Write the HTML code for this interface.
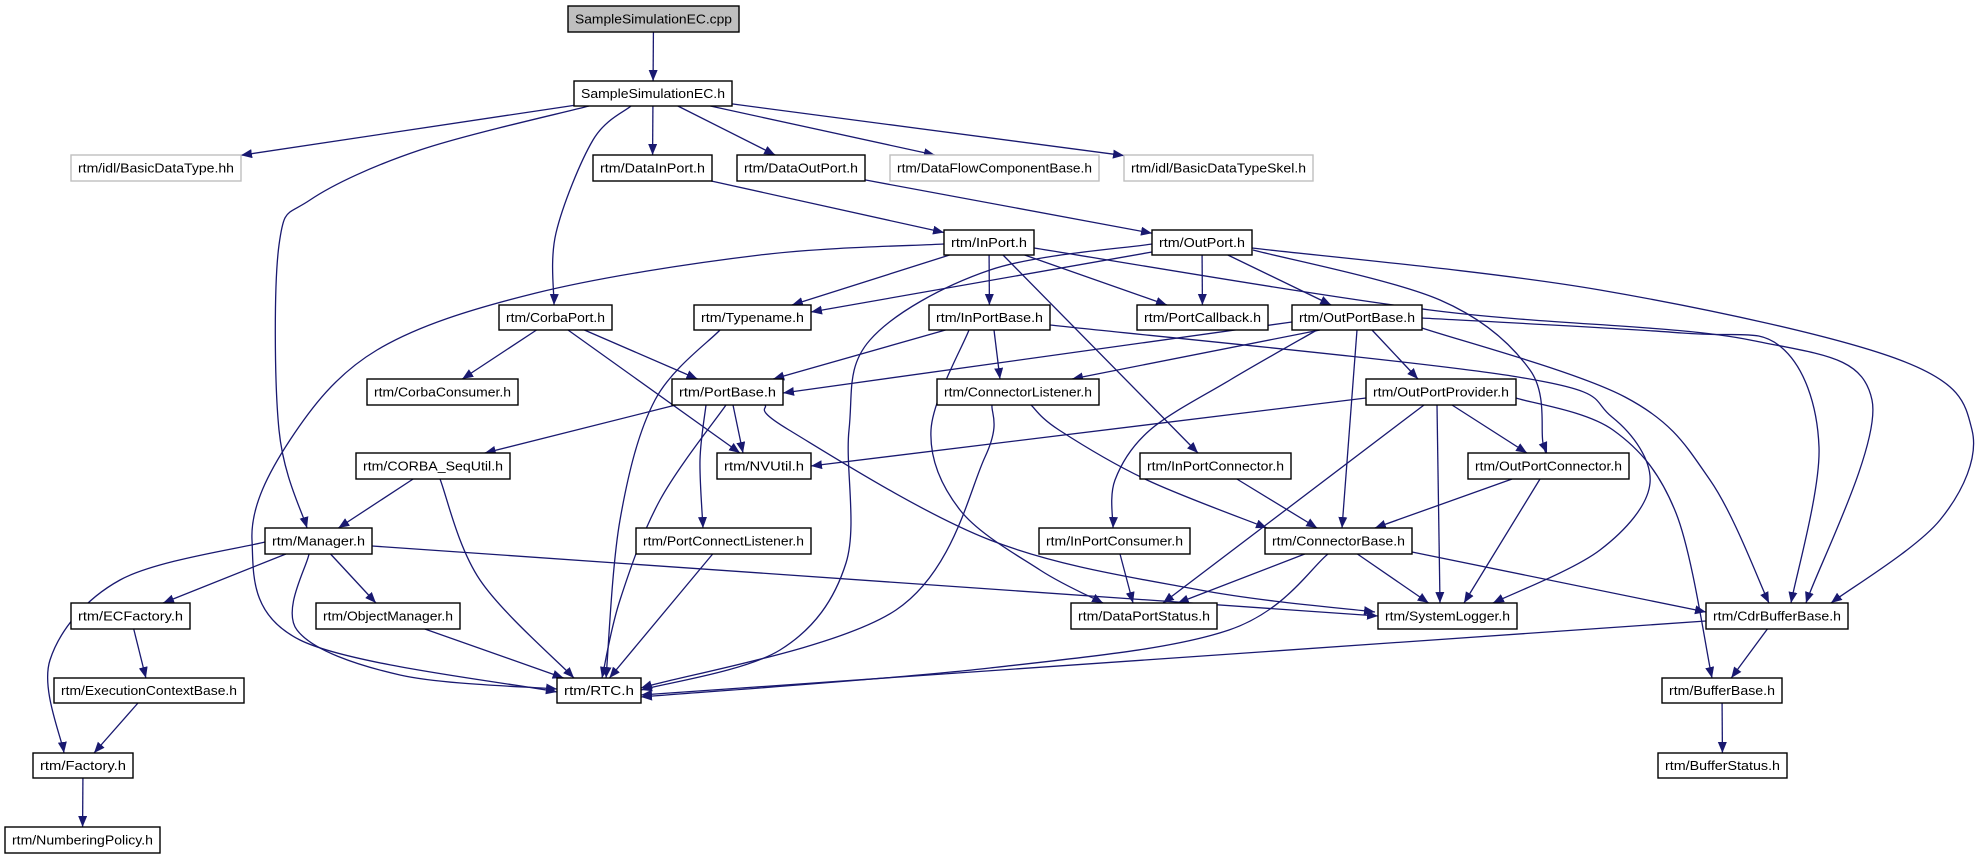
<!DOCTYPE html>
<html><head><meta charset="utf-8">
<style>
html,body{margin:0;padding:0;background:#fff;}
svg{display:block;}
text{font-family:"Liberation Sans",sans-serif;font-size:13px;}
</style></head>
<body>
<svg id="g" width="1977" height="859" xmlns="http://www.w3.org/2000/svg">
<defs><marker id="a" markerUnits="userSpaceOnUse" markerWidth="12" markerHeight="10" refX="11" refY="4.5" orient="auto"><path d="M0,0 L11,4.5 L0,9 z" fill="#191970"/></marker></defs>
<g id="E" fill="none" stroke="#191970" stroke-width="1.3"></g>
<g id="N"></g>
</svg>
<script>
var N={
cpp:[568,6,739,32,"SampleSimulationEC.cpp",2],
ech:[574,81,732,106,"SampleSimulationEC.h"],
bdt:[71,155,241,181,"rtm/idl/BasicDataType.hh",1],
dip:[593,155,712,181,"rtm/DataInPort.h"],
dop:[737,155,865,181,"rtm/DataOutPort.h"],
dfc:[890,155,1099,181,"rtm/DataFlowComponentBase.h",1],
bds:[1124,155,1313,181,"rtm/idl/BasicDataTypeSkel.h",1],
inp:[944,230,1034,255,"rtm/InPort.h"],
outp:[1152,230,1252,255,"rtm/OutPort.h"],
cbp:[499,305,612,330,"rtm/CorbaPort.h"],
tyn:[694,305,811,330,"rtm/Typename.h"],
ipb:[929,305,1050,330,"rtm/InPortBase.h"],
pcb:[1137,305,1268,330,"rtm/PortCallback.h"],
opb:[1292,305,1422,330,"rtm/OutPortBase.h"],
cbc:[367,379,518,405,"rtm/CorbaConsumer.h"],
pb:[672,379,783,405,"rtm/PortBase.h"],
cl:[937,379,1099,405,"rtm/ConnectorListener.h"],
opp:[1366,379,1516,405,"rtm/OutPortProvider.h"],
csu:[356,453,510,479,"rtm/CORBA_SeqUtil.h"],
nvu:[717,453,811,479,"rtm/NVUtil.h"],
ipc:[1140,453,1291,479,"rtm/InPortConnector.h"],
opc:[1468,453,1629,479,"rtm/OutPortConnector.h"],
mgr:[265,528,372,554,"rtm/Manager.h"],
pcl:[636,528,811,554,"rtm/PortConnectListener.h"],
ipcs:[1039,528,1190,554,"rtm/InPortConsumer.h"],
cb:[1265,528,1412,554,"rtm/ConnectorBase.h"],
ecf:[71,603,190,629,"rtm/ECFactory.h"],
om:[316,603,460,629,"rtm/ObjectManager.h"],
dps:[1071,603,1217,629,"rtm/DataPortStatus.h"],
sl:[1378,603,1517,629,"rtm/SystemLogger.h"],
cdr:[1706,603,1848,629,"rtm/CdrBufferBase.h"],
ecb:[54,678,244,703,"rtm/ExecutionContextBase.h"],
rtc:[557,678,641,703,"rtm/RTC.h"],
bb:[1662,678,1782,703,"rtm/BufferBase.h"],
fac:[33,753,133,778,"rtm/Factory.h"],
bs:[1658,753,1787,778,"rtm/BufferStatus.h"],
np:[5,827,160,853,"rtm/NumberingPolicy.h"]
};
// straight edges: [from,to] or [from,to,startPt,endPt]
var E=[
["cpp","ech"],["ech","bdt"],["ech","dip"],["ech","dop"],["ech","dfc"],["ech","bds"],
["dip","inp"],["dop","outp"],
["inp","tyn"],["inp","ipb"],["inp","pcb"],
["outp","tyn",[1152,252],[811,312]],["outp","pcb"],["outp","opb"],
["cbp","cbc"],["cbp","pb"],["cbp","nvu",[568,330],[740,453]],
["ipb","pb"],["ipb","cl",[994,330],[1000,379]],
["opb","pb",[1292,322],[783,393]],["opb","cl",[1320,330],[1072,379]],["opb","cb",[1357,330],[1342,528]],["opb","opp",[1372,330],[1418,379]],
["pb","csu"],["pb","nvu",[733,405],[743,453]],
["opp","nvu",[1366,398],[811,466]],["opp","dps",[1424,405],[1163,603]],["opp","sl",[1437,405],[1440,603]],["opp","opc",[1452,405],[1527,453]],
["csu","mgr"],["ipc","cb"],["opc","cb"],["opc","sl",[1540,479],[1464,603]],
["mgr","ecf"],["mgr","om"],["mgr","sl",[372,546],[1378,616]],
["ipcs","dps",[1120,554],[1133,603]],
["cb","dps"],["cb","sl"],["cb","cdr",[1412,552],[1706,612]],
["ecf","ecb"],["om","rtc"],["pcl","rtc"],["ecb","fac"],["fac","np"],
["cdr","rtc",[1706,621],[641,695]],["cdr","bb"],["bb","bs"],
["inp","ipc",[1003,255],[1198,453]]
];
// curved edges: list of waypoints
var C=[
[[589,106],[420,150],[310,200],[279,245],[279,430],[307,528]],
[[631,106],[593,140],[556,233],[554,305]],
[[944,244],[760,255],[536,293],[377,350],[290,440],[252,540],[300,640],[557,692]],
[[1152,244],[990,270],[870,340],[849,430],[846,563],[780,650],[641,690]],
[[720,330],[655,400],[620,520],[606,678]],
[[726,405],[660,500],[620,600],[602,678]],
[[706,405],[700,460],[703,528]],
[[440,479],[480,580],[574,678]],
[[309,554],[297,630],[400,675],[557,689]],
[[265,542],[120,580],[50,660],[64,753]],
[[992,405],[985,457],[896,610],[641,688]],
[[1031,405],[1059,430],[1147,480],[1267,528]],
[[1328,554],[1229,630],[990,668],[641,697]],
[[765,405],[789,430],[990,540],[1200,590],[1375,612]],
[[1317,330],[1230,380],[1150,430],[1115,480],[1113,528]],
[[969,330],[931,430],[960,510],[1040,570],[1103,603]],
[[1253,250],[1440,300],[1530,370],[1543,443],[1547,453]],
[[1516,398],[1613,430],[1676,513],[1712,678]],
[[1050,325],[1518,377],[1612,417],[1650,483],[1600,550],[1493,603]],
[[1422,328],[1625,397],[1710,480],[1769,603]],
[[1422,318],[1682,333],[1781,347],[1819,447],[1791,603]],
[[1034,248],[1430,310],[1750,340],[1872,400],[1806,603]],
[[1252,248],[1600,290],[1900,360],[1972,430],[1940,520],[1831,603]]
];
function ctr(b){return [(b[0]+b[2])/2,(b[1]+b[3])/2];}
function clip(b,p){var c=ctr(b),dx=p[0]-c[0],dy=p[1]-c[1],hw=(b[2]-b[0])/2,hh=(b[3]-b[1])/2;
var t=Math.min(dx?hw/Math.abs(dx):1e9,dy?hh/Math.abs(dy):1e9);return [c[0]+dx*t,c[1]+dy*t];}
var eg=document.getElementById("E"),ng=document.getElementById("N"),S="http://www.w3.org/2000/svg";
function add(d){var p=document.createElementNS(S,"path");p.setAttribute("d",d);p.setAttribute("marker-end","url(#a)");eg.appendChild(p);}
E.forEach(function(e){var a=N[e[0]],b=N[e[1]];
var s=e[2]||clip(a,ctr(b));var t=e[3]||clip(b,ctr(a));add("M"+s+" L"+t);});
C.forEach(function(P){var d="M"+P[0];
for(var i=0;i<P.length-1;i++){var p0=P[i-1]||P[i],p1=P[i],p2=P[i+1],p3=P[i+2]||P[i+1];
var c1=[p1[0]+(p2[0]-p0[0])/6,p1[1]+(p2[1]-p0[1])/6],c2=[p2[0]-(p3[0]-p1[0])/6,p2[1]-(p3[1]-p1[1])/6];
d+=" C"+c1+" "+c2+" "+p2;}add(d);});
for(var k in N){var b=N[k];var r=document.createElementNS(S,"rect");
r.setAttribute("x",b[0]);r.setAttribute("y",b[1]);r.setAttribute("width",b[2]-b[0]);r.setAttribute("height",b[3]-b[1]);
r.setAttribute("fill",b[5]==2?"#bfbfbf":"#fff");r.setAttribute("stroke",b[5]==1?"#bfbfbf":"#000");r.setAttribute("stroke-width","1.4");ng.appendChild(r);
var t=document.createElementNS(S,"text");t.setAttribute("x",(b[0]+b[2])/2);t.setAttribute("y",(b[1]+b[3])/2+4.5);
t.setAttribute("text-anchor","middle");t.setAttribute("textLength",b[2]-b[0]-14);t.setAttribute("lengthAdjust","spacingAndGlyphs");
t.textContent=b[4];ng.appendChild(t);}
</script>
</body></html>
